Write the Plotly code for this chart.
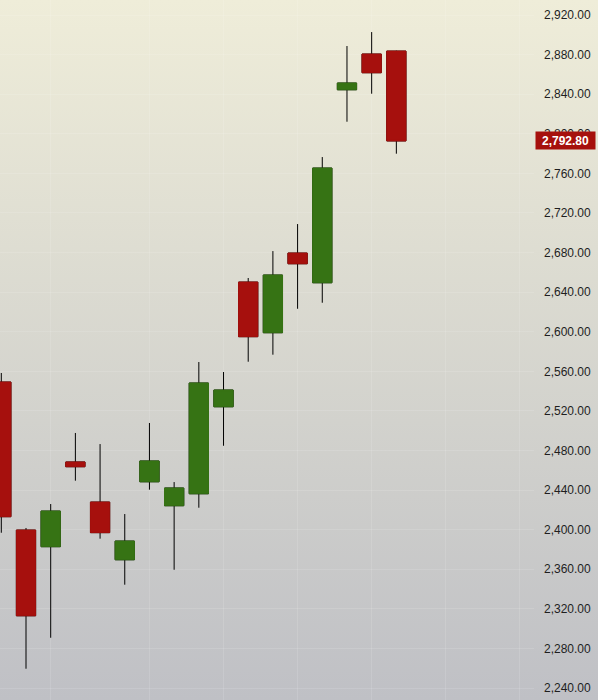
import base64
import plotly.graph_objects as go

# daily bars, oldest first
bars = list(range(17))
opens = [2549.2, 2399.6, 2382.8, 2468.4, 2427.9, 2369.6, 2448.4, 2424.2, 2436.3,
         2524.2, 2650.2, 2599.0, 2679.5, 2649.5, 2844.5, 2880.6, 2883.6]
highs = [2558.3, 2401.7, 2425.9, 2497.7, 2486.5, 2415.8, 2507.8, 2448.1, 2569.4,
         2559.3, 2654.3, 2681.5, 2708.8, 2776.5, 2888.7, 2902.8, 2884.0]
lows = [2396.9, 2259.5, 2290.8, 2449.5, 2390.9, 2344.4, 2440.4, 2359.5, 2422.2,
        2484.8, 2569.7, 2576.8, 2623.2, 2629.3, 2812.2, 2840.5, 2779.9]
closes = [2413.1, 2313.0, 2418.8, 2463.6, 2397.0, 2388.5, 2469.4, 2442.1, 2548.2,
          2541.1, 2595.0, 2657.3, 2668.7, 2765.4, 2851.3, 2861.7, 2792.8]

price_ticks = list(range(2240, 2921, 40))
grid_idx = [2, 6, 9, 12, 15, 18, 21]
last_price = closes[-1]

UP = "#367314"
DOWN = "#a6100d"

# background gradient as an svg image
svg = ('<svg xmlns="http://www.w3.org/2000/svg" width="10" height="100" preserveAspectRatio="none">'
       '<defs><linearGradient id="g" x1="0" y1="0" x2="0" y2="1">'
       '<stop offset="0" stop-color="#efedd9"/><stop offset="1" stop-color="#bfc0c5"/>'
       '</linearGradient></defs><rect width="10" height="100" fill="url(#g)"/></svg>')
bg_src = "data:image/svg+xml;base64," + base64.b64encode(svg.encode()).decode()

body_hi = [max(o, c) for o, c in zip(opens, closes)]
body_lo = [min(o, c) for o, c in zip(opens, closes)]

fig = go.Figure()
# wicks (black), body hidden under the coloured one
fig.add_trace(go.Candlestick(
    x=bars, open=opens, high=highs, low=lows, close=closes,
    increasing=dict(line=dict(color="black", width=1), fillcolor="black"),
    decreasing=dict(line=dict(color="black", width=1), fillcolor="black"),
    whiskerwidth=0, hoverinfo="skip", showlegend=False,
))
# coloured bodies
fig.add_trace(go.Candlestick(
    x=bars, open=opens, high=body_hi, low=body_lo, close=closes,
    increasing=dict(line=dict(color=UP, width=1), fillcolor=UP),
    decreasing=dict(line=dict(color=DOWN, width=1), fillcolor=DOWN),
    whiskerwidth=0, showlegend=False,
))

fig.add_annotation(
    x=1, xref="paper", y=last_price, yref="y",
    text="<b>" + f"{last_price:,.2f}" + "</b>",
    showarrow=False, xanchor="left", yanchor="middle", xshift=1,
    width=57, height=15, align="center",
    bgcolor=DOWN, borderpad=1,
    font=dict(family="Liberation Sans", size=12, color="white"),
)

fig.update_layout(
    width=598, height=700,
    margin=dict(l=0, r=64, t=0, b=0, pad=0),
    paper_bgcolor="#d8d7cd",
    plot_bgcolor="rgba(0,0,0,0)",
    boxgap=0.22, boxgroupgap=0,
    images=[dict(source=bg_src, xref="paper", yref="paper", x=0, y=1,
                 sizex=598 / 534, sizey=1, sizing="stretch", layer="below")],
    xaxis=dict(range=[-0.053, 21.575], rangeslider=dict(visible=False),
               tickvals=grid_idx, showticklabels=False, ticks="", automargin=False,
               showgrid=True, gridcolor="rgba(255,255,255,0.12)", gridwidth=1,
               zeroline=False, showline=False),
    yaxis=dict(range=[2227.9, 2935.2], side="right", tickvals=price_ticks,
               ticktext=[f"{v:,.2f}" for v in price_ticks],
               ticks="", ticklabelstandoff=9, automargin=False,
               showgrid=True, gridcolor="rgba(255,255,255,0.12)", gridwidth=1,
               zeroline=False, showline=False,
               tickfont=dict(family="Liberation Sans", size=12, color="#1e1e1e")),
    showlegend=False,
)

# page body has a default 8px margin; drop it so the chart fills the window
fig.write_html("out.html", config={"displayModeBar": False},
               post_script="document.body.style.margin='0';")
